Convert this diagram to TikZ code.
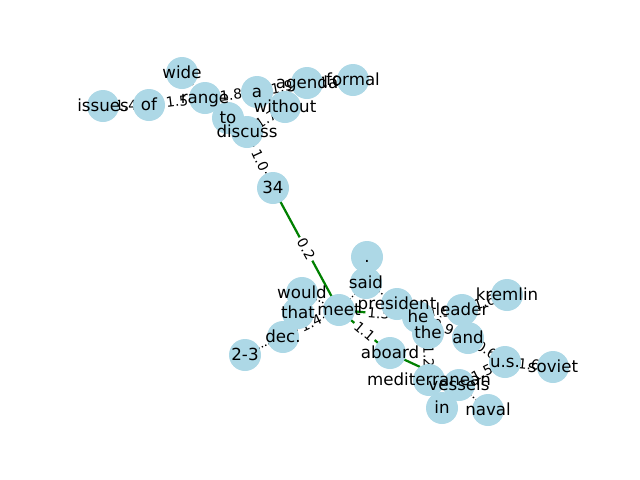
\documentclass[tikz,border=0pt]{standalone}
\usepackage{fontspec}
\setmainfont{DejaVu Sans}
\pgfdeclarelayer{edges}
\pgfdeclarelayer{elabels}
\pgfdeclarelayer{circles}
\pgfsetlayers{edges,elabels,circles,main}
\definecolor{nodeblue}{HTML}{ADD8E6}
\definecolor{pathgreen}{HTML}{008000}
\tikzset{
  word/.style={circle,inner sep=0pt,minimum size=23pt,font=\fontsize{12}{12}\selectfont,text height=0.85em,text depth=0pt},
  dotedge/.style={draw=black,line width=1pt,dash pattern=on 1pt off 1.65pt},
  greenedge/.style={draw=pathgreen,line width=1.6pt},
  elab/.style={sloped,fill=white,rounded corners=2pt,inner sep=1.5pt,font=\fontsize{10}{10}\selectfont,text height=0.8em,text depth=0.1em},
}
\begin{document}
\begin{tikzpicture}[x=0.72pt,y=-0.72pt]
\useasboundingbox (0,0) rectangle (640,480);
% word nodes
\node[word] (issues) at (103,106) {issues};
\node[word] (of) at (149,105) {of};
\node[word] (wide) at (182,73) {wide};
\node[word] (range) at (205,98) {range};
\node[word] (a) at (257,92) {a};
\node[word] (agenda) at (307,83) {agenda};
\node[word] (formal) at (353,80) {formal};
\node[word] (without) at (285,107) {without};
\node[word] (to) at (228,118) {to};
\node[word] (discuss) at (247,132) {discuss};
\node[word] (n34) at (273,188) {34};
\node[word] (dot) at (367,257) {.};
\node[word] (said) at (366,283) {said};
\node[word] (would) at (302,293) {would};
\node[word] (that) at (298,313) {that};
\node[word] (dec) at (283,337) {dec.};
\node[word] (twothree) at (245,355) {2-3};
\node[word] (meet) at (339,310) {meet};
\node[word] (president) at (397,304) {president};
\node[word] (he) at (418,317) {he};
\node[word] (the) at (428,333) {the};
\node[word] (leader) at (462,310) {leader};
\node[word] (kremlin) at (507,295) {kremlin};
\node[word] (and) at (468,338) {and};
\node[word] (aboard) at (390,353) {aboard};
\node[word] (us) at (505,362) {u.s.};
\node[word] (soviet) at (553,367) {soviet};
\node[word] (vessels) at (459,385) {vessels};
\node[word] (mediterranean) at (429,380) {mediterranean};
\node[word] (in) at (442,408) {in};
\node[word] (naval) at (488,410) {naval};
% circles
\begin{pgfonlayer}{circles}
\foreach \n in {issues,of,wide,range,a,agenda,formal,without,to,discuss,n34,dot,said,would,that,dec,twothree,meet,president,he,the,leader,kremlin,and,aboard,us,soviet,vessels,mediterranean,in,naval}
  \fill[nodeblue] (\n.center) circle (11.52pt);
\end{pgfonlayer}
% edges
\begin{pgfonlayer}{edges}
\draw[dotedge] (issues.center) -- (of.center);
\draw[dotedge] (of.center) -- (range.center);
\draw[dotedge] (wide.center) -- (range.center);
\draw[dotedge] (range.center) -- (a.center);
\draw[dotedge] (a.center) -- (agenda.center);
\draw[dotedge] (agenda.center) -- (formal.center);
\draw[dotedge] (without.center) -- (discuss.center);
\draw[dotedge] (to.center) -- (discuss.center);
\draw[dotedge] (discuss.center) -- (n34.center);
\draw[greenedge] (n34.center) -- (meet.center);
\draw[dotedge] (would.center) -- (meet.center);
\draw[dotedge] (dec.center) -- (meet.center);
\draw[dotedge] (dec.center) -- (twothree.center);
\draw[dotedge] (said.center) -- (meet.center);
\draw[dotedge] (dot.center) -- (said.center);
\draw[dotedge] (said.center) -- (president.center);
\draw[greenedge] (meet.center) -- (he.center);
\draw[greenedge] (meet.center) -- (aboard.center);
\draw[greenedge] (aboard.center) -- (vessels.center);
\draw[dotedge] (he.center) -- (leader.center);
\draw[dotedge] (he.center) -- (and.center);
\draw[dotedge] (leader.center) -- (kremlin.center);
\draw[dotedge] (the.center) -- (mediterranean.center);
\draw[dotedge] (and.center) -- (us.center);
\draw[dotedge] (us.center) -- (soviet.center);
\draw[dotedge] (us.center) -- (vessels.center);
\draw[dotedge] (vessels.center) -- (naval.center);
\draw[dotedge] (vessels.center) -- (in.center);
\end{pgfonlayer}
% edge labels
\begin{pgfonlayer}{elabels}
\path (issues.center) -- node[elab] (l1) {1.4} (of.center);
\path (of.center) -- node[elab] (l2) {1.5} (range.center);
\path (range.center) -- node[elab] (l3) {1.8} (a.center);
\path (a.center) -- node[elab] (l4) {1.9} (agenda.center);
\path (agenda.center) -- node[elab] (l5) {1.0} (formal.center);
\path (without.center) -- node[elab] (l6) {1.7} (discuss.center);
\path (discuss.center) -- node[elab] (l7) {1.0} (n34.center);
\path (n34.center) -- node[elab] (l8) {0.2} (meet.center);
\path (dec.center) -- node[elab] (l9) {1.4} (meet.center);
\path (meet.center) -- node[elab] (l10) {1.3} (he.center);
\path (meet.center) -- node[elab] (l11) {1.1} (aboard.center);
\path (he.center) -- node[elab] (l12) {1.5} (leader.center);
\path (he.center) -- node[elab] (l13) {0.9} (and.center);
\path (leader.center) -- node[elab] (l14) {1.6} (kremlin.center);
\path (the.center) -- node[elab] (l15) {1.2} (mediterranean.center);
\path (and.center) -- node[elab] (l16) {0.6} (us.center);
\path (us.center) -- node[elab] (l17) {1.6} (soviet.center);
\path (us.center) -- node[elab] (l18) {1.5} (vessels.center);
\end{pgfonlayer}
\end{tikzpicture}
\end{document}
